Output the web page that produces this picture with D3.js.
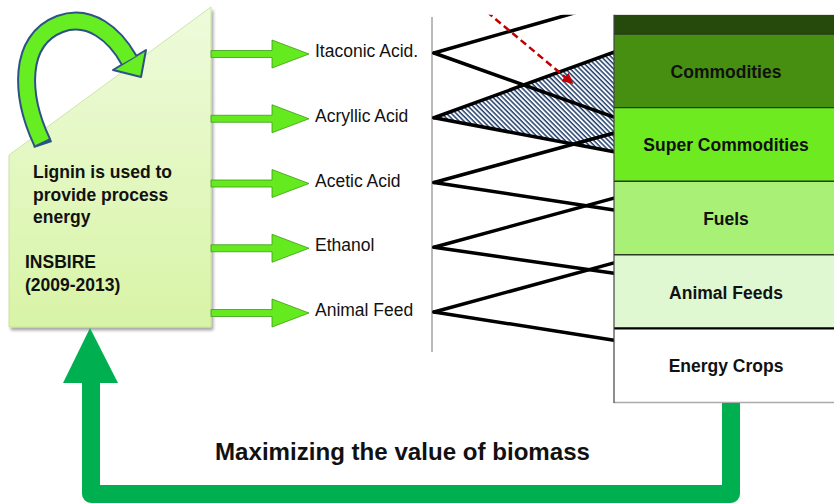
<!DOCTYPE html>
<html><head><meta charset="utf-8">
<script src="https://cdn.jsdelivr.net/npm/d3@7"></script>
<style>html,body{margin:0;padding:0;background:#fff;overflow:hidden;} svg{display:block;font-family:"Liberation Sans",Arial,sans-serif;}</style>
</head><body><svg id="c" width="834" height="503"></svg>
<script>
// ---- data ----
const products = ["Itaconic Acid.", "Acryllic Acid", "Acetic Acid", "Ethanol", "Animal Feed"];
const tiers = ["Commodities", "Super Commodities", "Fuels", "Animal Feeds", "Energy Crops"];
// each product links to two points on the value pyramid (level units: 0 = top of Commodities)
const linkProduct = [0, 0, 1, 1, 2, 2, 3, 3, 4, 4];
const linkLevel   = [-0.44, 1.13, 0.245, 1.60, 1.345, 2.39, 2.23, 3.25, 3.11, 4.16];
const hatchedProduct = 1;
const boxLines = ["Lignin is used to", "provide process", "energy"];
const projectLines = ["INSBIRE", "(2009-2013)"];
const footer = "Maximizing the value of biomass";

// ---- styles ----
const tierColors = ["#468f10", "#6eea20", "#a9f176", "#e0f8d2", "#ffffff"];
const topBandColor = "#264a0b";

const svg = d3.select("#c");
const yProd = d3.scalePoint().domain(products).range([54, 313]);
const yLevel = d3.scaleLinear().domain([0, 5]).range([34, 402]);
const yTier = d3.scaleBand().domain(tiers).range([34, 402]);
const xConn = d3.scaleLinear().domain([0, 1]).range([434, 614]);
const stackX = 614;

const defs = svg.append("defs");
const g1 = defs.append("linearGradient").attr("id", "boxg").attr("x1", 0).attr("y1", 0).attr("x2", 0).attr("y2", 1);
g1.append("stop").attr("offset", "0%").attr("stop-color", "#eefbdc");
g1.append("stop").attr("offset", "100%").attr("stop-color", "#d8f4a6");
const f = defs.append("filter").attr("id", "sh").attr("x", "-10%").attr("y", "-10%").attr("width", "130%").attr("height", "130%");
f.append("feDropShadow").attr("dx", 2).attr("dy", 3).attr("stdDeviation", 1.5).attr("flood-color", "#000").attr("flood-opacity", 0.35);
const pat = defs.append("pattern").attr("id", "hatch").attr("patternUnits", "userSpaceOnUse")
  .attr("width", 3.4).attr("height", 3.4).attr("patternTransform", "rotate(-45)");
pat.append("rect").attr("width", 3.4).attr("height", 3.4).attr("fill", "#fff");
pat.append("line").attr("x1", 1).attr("y1", 0).attr("x2", 1).attr("y2", 3.4).attr("stroke", "#1f3d6b").attr("stroke-width", 1.5);
defs.append("clipPath").attr("id", "clipTop").append("rect")
  .attr("x", 0).attr("y", yLevel(-0.26)).attr("width", 834).attr("height", 503);
const mk = defs.append("marker").attr("id", "redhead").attr("viewBox", "0 0 10 10").attr("refX", 8).attr("refY", 5)
  .attr("markerWidth", 4.5).attr("markerHeight", 4.5).attr("orient", "auto");
mk.append("path").attr("d", "M0,0 L10,5 L0,10 Z").attr("fill", "#c00000");

// ---- left box ----
svg.append("path").attr("d", "M9,155 L211,7 L211,327 L9,327 Z")
  .attr("fill", "url(#boxg)").attr("stroke", "#c3de98").attr("stroke-width", 0.8).attr("filter", "url(#sh)");

// curved arrow
const arcD = "M42,142 C20,95 18,40 60,24 C90,13 115,35 129,60";
svg.append("path").attr("d", "M43,145 L42,142 C20,95 18,40 60,24 C90,13 115,35 129,60")
  .attr("fill", "none").attr("stroke", "#2e5286").attr("stroke-width", 19);
svg.append("path").attr("d", "M113,70 L146,50 L141,77 Z")
  .attr("fill", "#66ee22").attr("stroke", "#2e5286").attr("stroke-width", 2).attr("stroke-linejoin", "round");
svg.append("path").attr("d", arcD).attr("fill", "none").attr("stroke", "#66ee22").attr("stroke-width", 15);

svg.append("g").selectAll("text").data(boxLines).join("text")
  .attr("x", 33).attr("y", (d, i) => 178 + i * 22.5)
  .attr("font-size", 17.5).attr("font-weight", "bold").attr("fill", "#111").text(d => d);
svg.append("g").selectAll("text").data(projectLines).join("text")
  .attr("x", 25).attr("y", (d, i) => 268 + i * 23)
  .attr("font-size", 17.5).attr("font-weight", "bold").attr("fill", "#111").text(d => d);

// ---- product arrows ----
const pa = svg.append("g");
products.forEach(p => {
  const y = yProd(p);
  pa.append("path")
    .attr("d", `M211,${y - 3.5} L272,${y - 3.5} L272,${y - 14} L309,${y} L272,${y + 14} L272,${y + 3.5} L211,${y + 3.5} Z`)
    .attr("fill", "#64ea1e").attr("stroke", "#3f9a18").attr("stroke-width", 0.8);
  pa.append("text").attr("x", 315).attr("y", y - 3).attr("dominant-baseline", "central")
    .attr("font-size", 17.5).attr("fill", "#111").text(p);
});

// vertical separator
svg.append("line").attr("x1", 432).attr("x2", 432).attr("y1", 17).attr("y2", 352)
  .attr("stroke", "#777").attr("stroke-width", 1);

// ---- connections ----
const conn = svg.append("g").attr("clip-path", "url(#clipTop)");
const hl = linkLevel.filter((d, i) => linkProduct[i] === hatchedProduct);
const hy = yProd(products[hatchedProduct]) - 1;
conn.append("path")
  .attr("d", `M${xConn(0)},${hy} L${xConn(1)},${yLevel(hl[0])} L${xConn(1)},${yLevel(hl[1])} Z`)
  .attr("fill", "url(#hatch)");
conn.selectAll("line.lk").data(linkLevel).join("line").attr("class", "lk")
  .attr("x1", xConn(0)).attr("y1", (d, i) => yProd(products[linkProduct[i]]) - 1)
  .attr("x2", xConn(1)).attr("y2", d => yLevel(d))
  .attr("stroke", "#000").attr("stroke-width", 3.5).attr("stroke-linecap", "round");
// red dashed pointer
conn.append("line").attr("x1", xConn(0.294)).attr("y1", yLevel(-0.3)).attr("x2", xConn(0.765)).attr("y2", yLevel(0.66))
  .attr("stroke", "#c00000").attr("stroke-width", 2.5).attr("stroke-dasharray", "7,4").attr("marker-end", "url(#redhead)");

// ---- value stack ----
const st = svg.append("g");
st.append("rect").attr("x", stackX).attr("y", yLevel(-0.26)).attr("width", 240).attr("height", yLevel(0) - yLevel(-0.26))
  .attr("fill", topBandColor);
st.selectAll("rect.t").data(tiers).join("rect").attr("class", "t")
  .attr("x", stackX).attr("y", d => yTier(d)).attr("width", 240).attr("height", yTier.bandwidth())
  .attr("fill", (d, i) => tierColors[i]);
st.selectAll("line.b").data(tiers).join("line").attr("class", "b")
  .attr("x1", stackX).attr("x2", 834).attr("y1", d => yTier(d)).attr("y2", d => yTier(d))
  .attr("stroke", (d, i) => i === 4 ? "#000" : "#2b3a22").attr("stroke-width", (d, i) => i === 4 ? 2.2 : 1.4);
st.append("line").attr("x1", stackX).attr("x2", 834).attr("y1", yLevel(5) + 0.5).attr("y2", yLevel(5) + 0.5)
  .attr("stroke", "#aaa").attr("stroke-width", 1.5);
st.append("line").attr("x1", stackX).attr("x2", stackX).attr("y1", yLevel(-0.26)).attr("y2", yLevel(5) + 1)
  .attr("stroke", "#444").attr("stroke-width", 1.2);
st.selectAll("text").data(tiers).join("text")
  .attr("x", 726).attr("y", d => yTier(d) + yTier.bandwidth() / 2 + 1).attr("text-anchor", "middle")
  .attr("dominant-baseline", "central").attr("font-size", 17.5).attr("font-weight", "bold").attr("fill", "#111")
  .text(d => d);

// ---- feedback arrow ----
svg.append("path").attr("d", `M731,${yLevel(5) + 1} V494 H91 V380`)
  .attr("fill", "none").attr("stroke", "#00b050").attr("stroke-width", 18).attr("stroke-linejoin", "round");
svg.append("path").attr("d", "M63,383 L118,383 L90,328 Z").attr("fill", "#00b050");

svg.append("text").attr("x", 215).attr("y", 460).attr("font-size", 24).attr("font-weight", "bold")
  .attr("textLength", 375).attr("lengthAdjust", "spacingAndGlyphs").attr("fill", "#111").text(footer);
</script></body></html>
